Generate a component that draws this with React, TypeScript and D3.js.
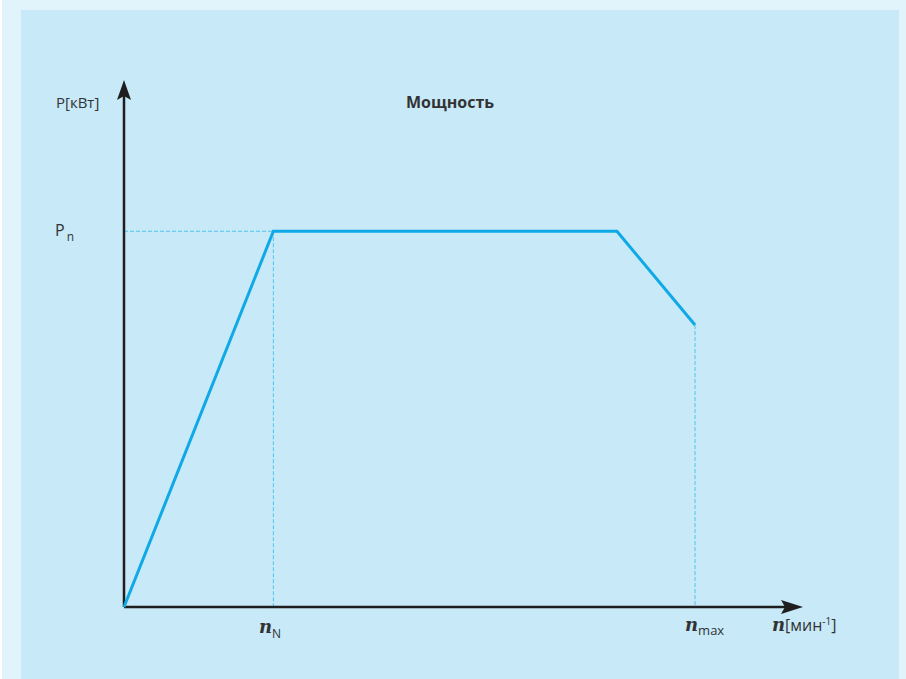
import React from "react";
import * as d3 from "d3";

const speeds = [0, 22, 72.6, 84.1];
const powers = [0, 71.3, 71.3, 53.5];
const title = "Мощность";
const yAxisLabel = "P[кВт]";
const xAxisUnit = "[мин";
const markerPn = "P";
const markerNN = "N";
const markerNmax = "max";

export default function App() {
  const W = 906, H = 679;
  const x0 = 124, y0 = 607, xEnd = 803, yEnd = 80;
  const x = d3.scaleLinear().domain([0, 100]).range([x0, xEnd]);
  const y = d3.scaleLinear().domain([0, 100]).range([y0, yEnd]);
  const line = d3.line<number>().x((_, i) => x(speeds[i])).y((d) => y(d));
  const path = line(powers) || "";
  const axisColor = "#1e1e1e";
  const blue = "#0fa9e6";
  const dashBlue = "#52c4f0";
  const txt = "#333333";
  const sans = "'Open Sans', 'Noto Sans', sans-serif";
  const serif = "'DejaVu Serif', 'Liberation Serif', serif";
  return (
    <svg width={W} height={H} style={{ position: "absolute", left: 0, top: 0, display: "block" }}>
      <rect x={0} y={0} width={W} height={H} fill="#ffffff" />
      <rect x={2} y={0} width={W - 2} height={H} fill="#e1f3fb" />
      <rect x={21} y={10} width={878} height={H - 10} fill="#c7e9f8" />
      {/* dashed guides */}
      <line x1={x0} x2={x(speeds[1])} y1={y(powers[1])} y2={y(powers[1])} stroke={dashBlue} strokeWidth={1} strokeDasharray="4,2" />
      <line x1={x(speeds[1])} x2={x(speeds[1])} y1={y(powers[1])} y2={y0} stroke={dashBlue} strokeWidth={1} strokeDasharray="4,2" />
      <line x1={x(speeds[3])} x2={x(speeds[3])} y1={y(powers[3])} y2={y0} stroke={dashBlue} strokeWidth={1} strokeDasharray="4,2" />
      {/* axes */}
      <line x1={x0} x2={xEnd - 16} y1={y0} y2={y0} stroke={axisColor} strokeWidth={2.5} />
      <line x1={x0} x2={x0} y1={y0} y2={yEnd + 16} stroke={axisColor} strokeWidth={2.5} />
      <path d={`M${xEnd},${y0} L${xEnd - 22},${y0 - 7} L${xEnd - 18},${y0} L${xEnd - 22},${y0 + 7} Z`} fill={axisColor} />
      <path d={`M${x0},${yEnd} L${x0 - 7},${yEnd + 20} L${x0},${yEnd + 16} L${x0 + 7},${yEnd + 20} Z`} fill={axisColor} />
      {/* power curve */}
      <path d={path} fill="none" stroke={blue} strokeWidth={3} strokeLinejoin="miter" />
      {/* texts */}
      <text x={450} y={108} textAnchor="middle" fontFamily={sans} fontWeight="bold" fontSize={16} fill={txt}>{title}</text>
      <text x={56} y={108} fontFamily={sans} fontSize={15} fill={txt}>{yAxisLabel}</text>
      <text x={55} y={236} fontFamily={sans} fontSize={16} fill={txt}>
        {markerPn}
        <tspan fontSize={12} dx={2} dy={5}>n</tspan>
      </text>
      <text x={259} y={633} fontFamily={sans} fontSize={15} fill={txt}>
        <tspan fontFamily={serif} fontWeight="bold" fontStyle="italic" fontSize={18}>n</tspan>
        <tspan fontSize={12} dy={5}>{markerNN}</tspan>
      </text>
      <text x={685} y={631} fontFamily={sans} fontSize={15} fill={txt}>
        <tspan fontFamily={serif} fontWeight="bold" fontStyle="italic" fontSize={18}>n</tspan>
        <tspan fontSize={13} dy={4}>{markerNmax}</tspan>
      </text>
      <text x={772} y={631} fontFamily={sans} fontSize={16} fill={txt}>
        <tspan fontFamily={serif} fontWeight="bold" fontStyle="italic" fontSize={18}>n</tspan>
        <tspan>{xAxisUnit}</tspan>
        <tspan fontSize={10} dy={-6}>-1</tspan>
        <tspan dy={6}>]</tspan>
      </text>
    </svg>
  );
}
